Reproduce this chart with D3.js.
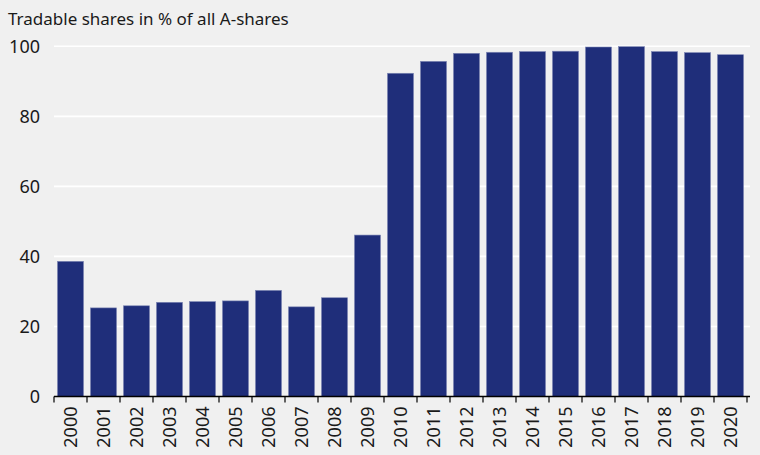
<!DOCTYPE html>
<html><head><meta charset="utf-8">
<script src="https://cdn.jsdelivr.net/npm/d3@7"></script>
<style>
html,body{margin:0;padding:0;background:#f0f0f0;}
svg{display:block;}
text{font-family:"Noto Sans",sans-serif;fill:#1a1a1a;}
</style></head>
<body>
<script>
const years = ["2000","2001","2002","2003","2004","2005","2006","2007","2008","2009","2010","2011","2012","2013","2014","2015","2016","2017","2018","2019","2020"];
const tradableShare = [38.6,25.3,25.9,26.9,27.1,27.3,30.3,25.6,28.2,46.1,92.3,95.7,98.0,98.3,98.5,98.6,99.8,99.9,98.5,98.2,97.6];
const yTicks = [0,20,40,60,80,100];
const title = "Tradable shares in % of all A-shares";

const W = 760, H = 455;
const mLeft = 54, mRight = 747, mTop = 46.3, mBottom = 396.5;

const svg = d3.select("body").append("svg").attr("width", W).attr("height", H);
svg.append("rect").attr("width", W).attr("height", H).attr("fill", "#f0f0f0");

const x = d3.scaleBand().domain(years).range([mLeft, mRight]).paddingInner(0.21).paddingOuter(0.105);
const y = d3.scaleLinear().domain([0, 100]).range([mBottom, mTop]);

// gridlines
svg.append("g").selectAll("line").data(yTicks.filter(d => d > 0)).join("line")
  .attr("x1", mLeft).attr("x2", mRight + 3)
  .attr("y1", d => y(d)).attr("y2", d => y(d))
  .attr("stroke", "#ffffff").attr("stroke-width", 1.6);

// y labels
svg.append("g").selectAll("text").data(yTicks).join("text")
  .attr("x", 40).attr("y", d => y(d)).attr("dy", "0.36em")
  .attr("text-anchor", "end").attr("font-size", 18)
  .text(d => d);

// bars
svg.append("g").selectAll("rect").data(tradableShare).join("rect")
  .attr("x", (d, i) => x(years[i]))
  .attr("width", x.bandwidth())
  .attr("y", d => y(d))
  .attr("height", d => y(0) - y(d))
  .attr("fill", "#1f2e7a")
  .attr("stroke", "#7f88b5").attr("stroke-width", 0.6);

// x axis
const gx = svg.append("g").attr("transform", `translate(0,${mBottom})`);
gx.append("line").attr("x1", mLeft).attr("x2", mRight + 3).attr("y1", 0).attr("y2", 0)
  .attr("stroke", "#000").attr("stroke-width", 1.3);
const tickPos = years.map(yr => x(yr) - x.step() * x.paddingInner() / 2).concat([mRight]);
gx.selectAll("line.tk").data(tickPos).join("line").attr("class", "tk")
  .attr("x1", d => d).attr("x2", d => d).attr("y1", 0).attr("y2", 6)
  .attr("stroke", "#000").attr("stroke-width", 1.2);
gx.selectAll("text").data(years).join("text")
  .attr("transform", d => `translate(${x(d) + x.bandwidth() / 2},10) rotate(-90)`)
  .attr("text-anchor", "end").attr("dy", "0.36em").attr("font-size", 18)
  .text(d => d);

svg.append("text").attr("x", 8).attr("y", 24.5).attr("font-size", 17).text(title);
</script>
</body></html>
